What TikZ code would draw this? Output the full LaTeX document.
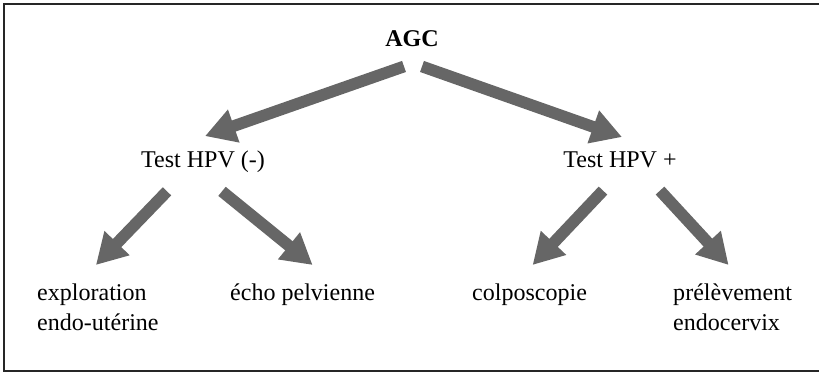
\documentclass[tikz,border=0pt]{standalone}
\usepackage{fontspec}
\setmainfont{Liberation Serif}
\usepackage{tikz}
\usetikzlibrary{arrows.meta}

\begin{document}
\begin{tikzpicture}[x=0.03cm, y=-0.03cm,
					txt/.style={inner sep=0pt, font=\fontsize{20.5pt}{25.6pt}\selectfont},
					multi/.style={txt, align=left, anchor=north west},
					bigarrow/.style={-{Triangle[width=28pt, length=26pt]}, line width=10pt, draw=black!60},
					frame/.style={line width=1.7pt, draw=black!85}
					]
					
					\useasboundingbox (0,0) rectangle (819,373);
					\draw[frame] (819,4) -- (4,4) -- (4,371) -- (819,371);
					
					% Top node
					\node[txt, anchor=base, font=\fontsize{20.5pt}{25.6pt}\selectfont\bfseries] (agc) at (412,47) {AGC};
					
					% HPV tests
					\node[txt, anchor=base] (hpvneg) at (203,168) {Test HPV (-)};
					\node[txt, anchor=base] (hpvpos) at (620,168) {Test HPV +};
					
					% Exams
					\node[multi] (explo) at (37,284) {exploration\\endo-utérine};
					\node[multi] (echo) at (230,284) {écho pelvienne};
					\node[multi] (colpo) at (472,284) {colposcopie};
					\node[multi] (prelev) at (673,284) {prélèvement\\endocervix};
					
					% Arrows
					\draw[bigarrow] ([shift={(-8,19)}]agc.south) -- ([shift={(2,-15)}]hpvneg.north);
					\draw[bigarrow] ([shift={(10,19)}]agc.south) -- ([shift={(2,-15)}]hpvpos.north);
					
					\draw[bigarrow] ([shift={(-36,18)}]hpvneg.south) -- ([shift={(-2,-19)}]explo.north);
					\draw[bigarrow] ([shift={(19,18)}]hpvneg.south) -- ([shift={(10,-19)}]echo.north);
					
					\draw[bigarrow] ([shift={(-17,22)}]hpvpos.south) -- ([shift={(3,-19)}]colpo.north);
					\draw[bigarrow] ([shift={(40,22)}]hpvpos.south) -- ([shift={(-4,-19)}]prelev.north);
					
				\end{tikzpicture}
\end{document}
